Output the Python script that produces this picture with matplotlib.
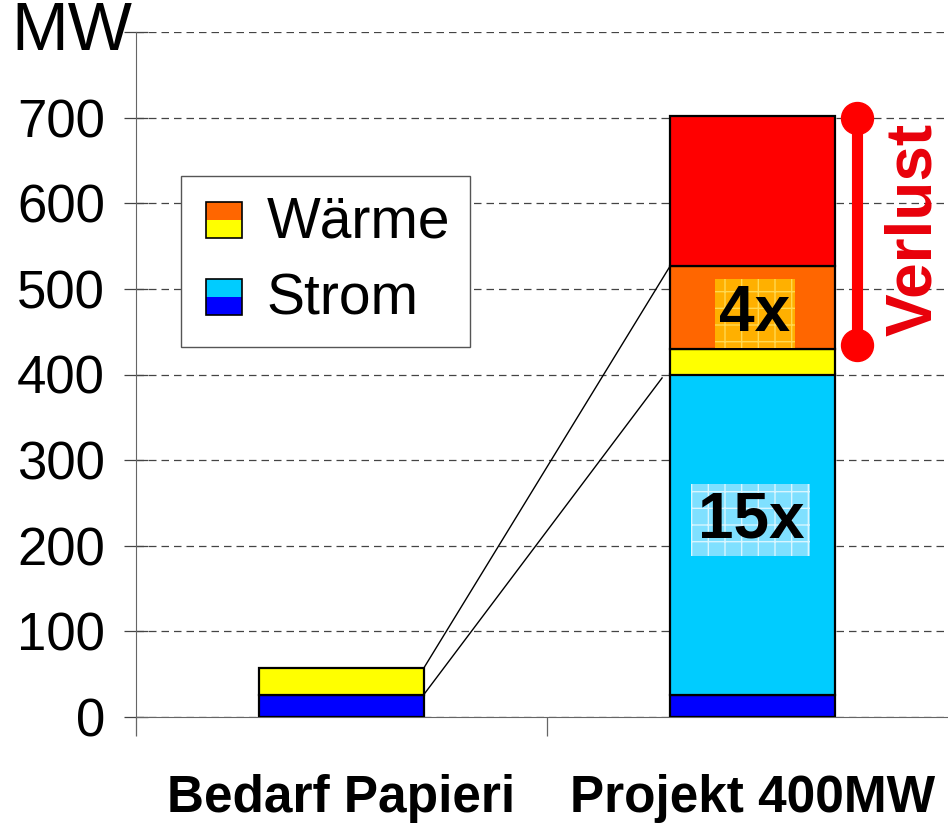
import matplotlib
matplotlib.use("Agg")
import matplotlib.pyplot as plt
from matplotlib.patches import Rectangle
from matplotlib.legend_handler import HandlerBase

plt.rcParams['font.family'] = ['Liberation Sans', 'DejaVu Sans']

categories = ["Bedarf Papieri", "Projekt 400MW"]
strom_base = [26, 26]        # dark blue
strom_extra = [0, 374]       # cyan
waerme_base = [31, 30]       # yellow
waerme_extra = [0, 97]       # orange
verlust = [0, 175]           # red
yticks = [0, 100, 200, 300, 400, 500, 600, 700, 800]
ytick_labels = ["0", "100", "200", "300", "400", "500", "600", "700", ""]

c_blue, c_cyan, c_yellow, c_orange, c_red = "#0000FF", "#00CCFF", "#FFFF00", "#FF6600", "#FF0000"

fig = plt.figure(figsize=(9.48, 8.26), dpi=100)
ax = fig.add_axes([136/948, 109/826, 812/948, 685/826])

x = [0, 1]
w = 0.4
bottom = [0, 0]
for vals, col in [(strom_base, c_blue), (strom_extra, c_cyan), (waerme_base, c_yellow),
                  (waerme_extra, c_orange), (verlust, c_red)]:
    for i in range(2):
        if vals[i] > 0:
            ax.bar(x[i], vals[i], w, bottom=bottom[i], color=col, edgecolor="black",
                   linewidth=1.6, zorder=3)
    bottom = [b + v for b, v in zip(bottom, vals)]

# connecting lines
top1_strom = strom_base[0] + strom_extra[0]
top2_strom = strom_base[1] + strom_extra[1]
top1_all = top1_strom + waerme_base[0] + waerme_extra[0]
top2_waerme = top2_strom + waerme_base[1] + waerme_extra[1]
ax.plot([x[0] + w/2, x[1] - w/2], [top1_all, top2_waerme], color="black", lw=1, zorder=2)
ax.plot([x[0] + w/2, x[1] - w/2 - 0.02], [top1_strom, top2_strom - 4], color="black", lw=1, zorder=2)

# Verlust marker
v_lo = top2_waerme - 95
v_hi = top2_waerme + verlust[1]
ax.plot([1.254, 1.254], [v_lo + 2, v_hi - 2], color=c_red, lw=8, marker="o",
        markersize=23, solid_capstyle="butt", zorder=4, clip_on=False)
ax.text(1.393, 569, "Verlust", rotation=90, color="#E8000A",
        fontsize=46, fontweight="bold", ha="center", va="center")

# multiplier labels
ax.text(1.006, 471, "4x", fontsize=46, fontweight="bold", ha="center", va="center", zorder=5,
        bbox=dict(boxstyle="square,pad=0.07", facecolor="#FFB000", edgecolor="#FFD850",
                  linewidth=0, hatch="+"))
ax.text(0.996, 230, "15x", fontsize=46, fontweight="bold", ha="center", va="center", zorder=5,
        bbox=dict(boxstyle="square,pad=0.1", facecolor="#7FE0FF", edgecolor="#D8F6FF",
                  linewidth=0, hatch="+"))

# axes styling
ax.set_xlim(-0.5, -0.5 + 812/411)
ax.set_ylim(0, 800)
ax.set_yticks(yticks)
ax.set_yticklabels(ytick_labels, fontsize=38)
ax.yaxis.grid(True, linestyle=(0, (6, 4)), color="#444444", lw=0.9)
ax.set_axisbelow(True)
for s in ["top", "right"]:
    ax.spines[s].set_visible(False)
ax.spines["left"].set_color("#666666")
ax.spines["bottom"].set_color("#666666")
ax.tick_params(axis="y", direction="inout", length=17, width=0.9, color="#444444", pad=14)
ax.set_xticks([-0.5, 0.5])
ax.set_xticklabels(["", ""])
ax.tick_params(axis="x", which="major", direction="out", length=14, width=0.9, color="#666666")
ax.set_xticks(x, minor=True)
ax.set_xticklabels(categories, minor=True, fontsize=37, fontweight="bold")
ax.tick_params(axis="x", which="minor", length=0, pad=41)

ax.text(-0.005, 800, "MW", transform=ax.get_yaxis_transform(), fontsize=49,
        ha="right", va="center")


class SplitHandler(HandlerBase):
    def __init__(self, top, bot):
        super().__init__()
        self.top, self.bot = top, bot

    def create_artists(self, legend, orig_handle, xdescent, ydescent, width, height, fontsize, trans):
        s = height * 0.9
        x0 = -xdescent + (width - s) / 2
        y0 = -ydescent + (height - s) / 2 - height * 0.05
        r1 = Rectangle((x0, y0), s, s / 2, facecolor=self.bot, edgecolor="none", transform=trans)
        r2 = Rectangle((x0, y0 + s / 2), s, s / 2, facecolor=self.top, edgecolor="none", transform=trans)
        r3 = Rectangle((x0, y0), s, s, facecolor="none", edgecolor="black", lw=1.2, transform=trans)
        return [r1, r2, r3]


h1 = Rectangle((0, 0), 1, 1)
h2 = Rectangle((0, 0), 1, 1)
leg = ax.legend([h1, h2], ["Wärme", "Strom"],
                handler_map={h1: SplitHandler(c_orange, c_yellow), h2: SplitHandler(c_cyan, c_blue)},
                loc="upper left", bbox_to_anchor=(45/812, (717-176)/685), fontsize=41,
                frameon=True, fancybox=False, edgecolor="#555555", framealpha=1,
                handlelength=0.8, handletextpad=0.35, labelspacing=0.4, borderpad=0.35,
                borderaxespad=0)
leg.get_frame().set_linewidth(1.0)

fig.savefig("out.png", dpi=100)
